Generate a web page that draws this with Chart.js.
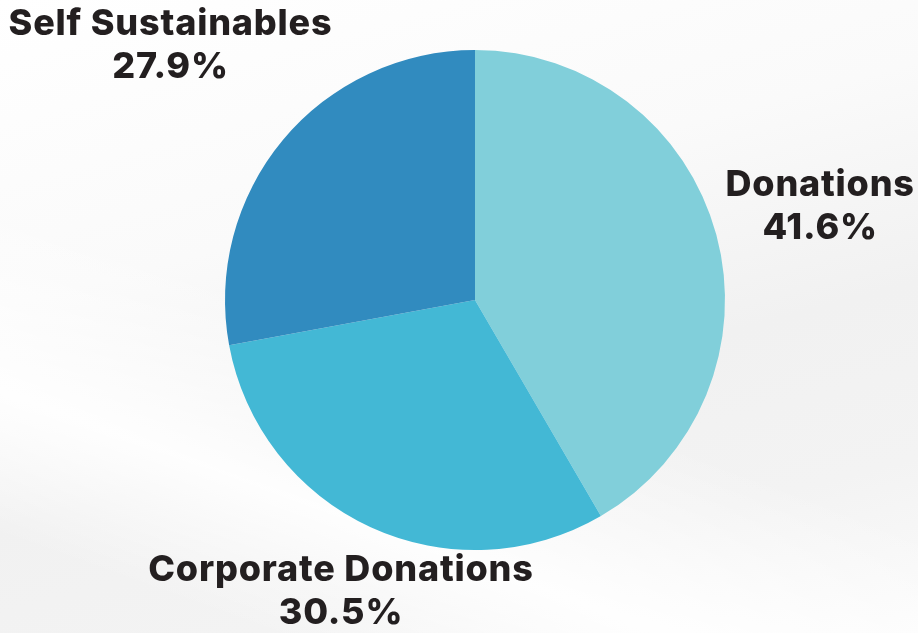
<!DOCTYPE html>
<html>
<head>
<meta charset="utf-8">
<script src="https://cdn.jsdelivr.net/npm/chart.js"></script>
<style>
  html, body { margin:0; padding:0; }
  body {
    width:918px; height:633px; overflow:hidden;
    background:
      linear-gradient(200deg, rgba(255,255,255,0) 55%, rgba(255,255,255,0.9) 75%, rgba(255,255,255,0) 90%),
      linear-gradient(165deg, #ffffff 0%, #fafafa 35%, #f1f1f1 60%, #f3f3f3 80%, #fbfbfb 100%);
  }
  #wrap { position:relative; width:918px; height:633px; }
</style>
</head>
<body>
<div id="wrap"><canvas id="pie" width="918" height="633"></canvas></div>
<script>
const categories = ["Donations", "Corporate Donations", "Self Sustainables"];
const shares = [41.6, 30.5, 27.9];
const sliceColors = ["#81CFDA", "#43B8D5", "#318BBF"];

// how far out (in radii) each label block sits along its slice's mid angle
const labelDistance = [1.43, 1.285, 1.585];

const outsideLabels = {
  id: "outsideLabels",
  afterDraw(chart) {
    const ctx = chart.ctx;
    const arcs = chart.getDatasetMeta(0).data;
    ctx.save();
    ctx.fillStyle = "#231F20";
    ctx.textAlign = "center";
    ctx.textBaseline = "middle";
    ctx.font = "800 36px Inter, 'DejaVu Sans', sans-serif";
    ctx.letterSpacing = "0.8px";
    arcs.forEach((arc, i) => {
      const mid = (arc.startAngle + arc.endAngle) / 2;
      const r = arc.outerRadius * labelDistance[i];
      const x = arc.x + Math.cos(mid) * r;
      const y = arc.y + Math.sin(mid) * r;
      ctx.fillText(categories[i], x, y - 22);
      ctx.fillText(shares[i].toFixed(1) + "%", x, y + 21);
    });
    ctx.restore();
  }
};

new Chart(document.getElementById("pie"), {
  type: "pie",
  data: {
    labels: categories,
    datasets: [{
      data: shares,
      backgroundColor: sliceColors,
      borderWidth: 0
    }]
  },
  options: {
    responsive: false,
    animation: false,
    layout: { padding: { top: 50, bottom: 83, left: 225, right: 193 } },
    plugins: {
      legend: { display: false },
      tooltip: { enabled: false }
    }
  },
  plugins: [outsideLabels]
});
</script>
</body>
</html>
